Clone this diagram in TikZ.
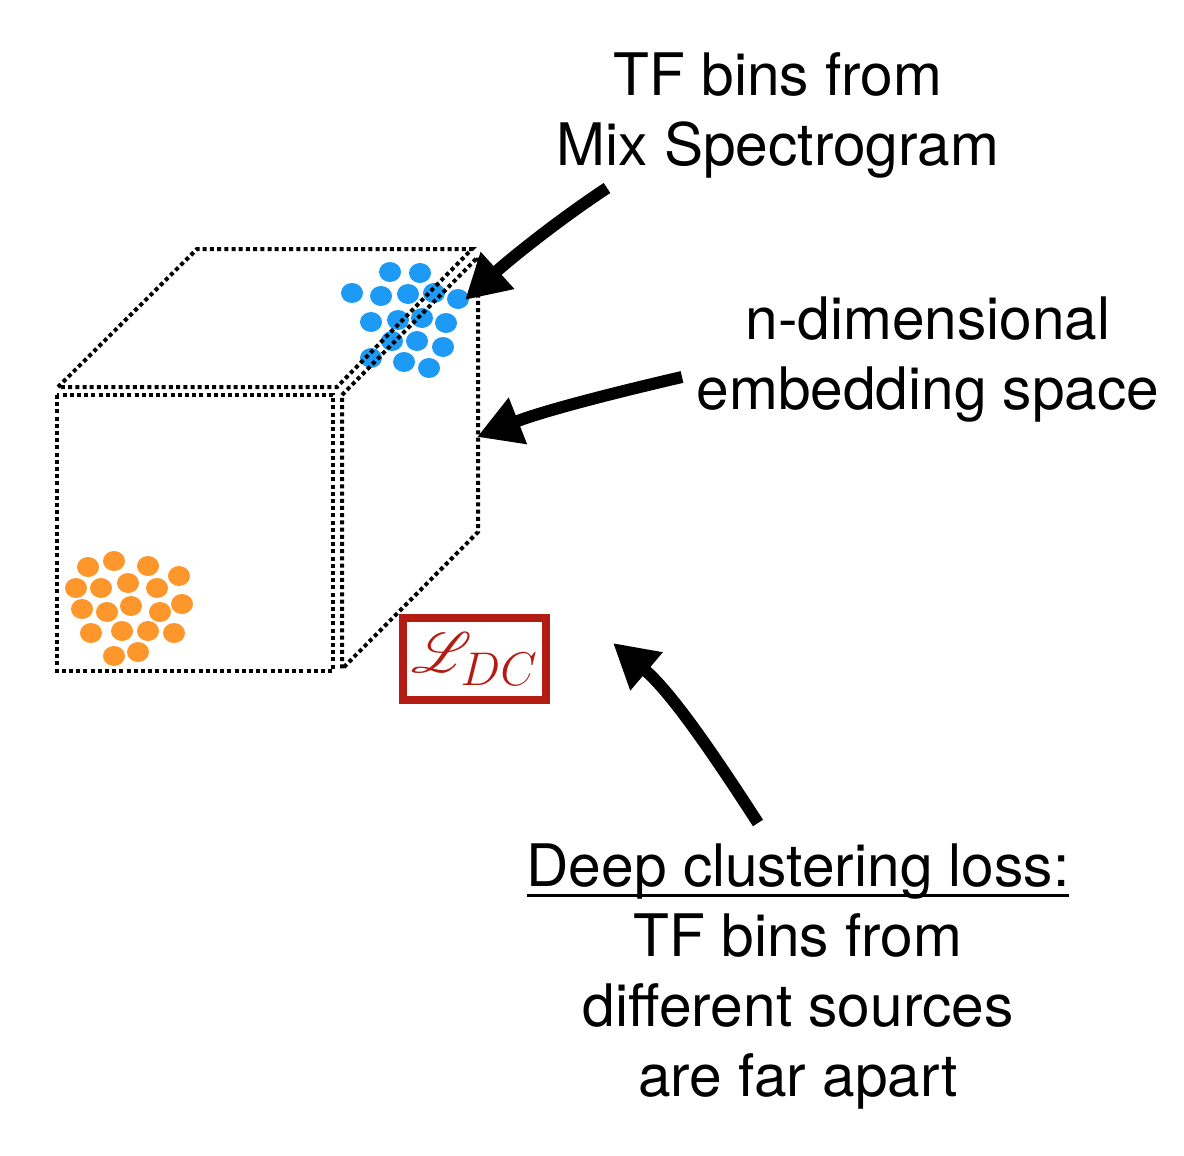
\documentclass[tikz,border=0pt]{standalone}
\usepackage{fontspec}
\setmainfont{TeX Gyre Heros}
\usepackage{mathrsfs}
\usepackage{graphicx}
\usetikzlibrary{arrows.meta}

\definecolor{dotblue}{RGB}{28,154,246}
\definecolor{dotorange}{RGB}{253,150,43}
\definecolor{lossred}{RGB}{178,28,18}

\newsavebox\headbox
\newcommand\headline[1]{\sbox\headbox{#1}\rlap{\rule[-5.25pt]{\wd\headbox}{1.5pt}}\usebox\headbox}

\begin{document}
\begin{tikzpicture}[x=0.5pt,y=-0.5pt,
  cubeline/.style={draw,line width=2pt,dash pattern=on 2pt off 1.6pt},
  bigarrow/.style={draw,line width=6pt,-{Triangle[length=22pt,width=23.5pt]}},
  bluedot/.style={fill=dotblue},
  orangedot/.style={fill=dotorange},
  labeltext/.style={align=center,inner sep=0pt,font={\fontsize{29.3pt}{35pt}\selectfont}}]
 \useasboundingbox (0,0) rectangle (1184,1156);

 % clusters of TF bins
 \foreach \x/\y in {390/272,420/273,352/293,381/296,408/294,434/293,458/299,371/322,398/320,422/318,446/323,392/341,417/341,443/347,371/358,404/362,429/368}
  \fill[bluedot] (\x,\y) ellipse (5.5pt and 5pt);
 \foreach \x/\y in {88/567,114/561,148/566,179/576,76/588,101/588,128/583,157/588,82/609,107/612,131/606,160/612,182/604,91/633,122/631,148/631,174/633,114/656,138/652}
  \fill[orangedot] (\x,\y) ellipse (5.5pt and 5pt);

 % embedding space
 \draw[cubeline] (58,387) -- (197,249) -- (472,249) -- (337,387) -- cycle;
 \draw[cubeline] (57,395) rectangle (333,671);
 \draw[cubeline] (342,395) -- (478,257) -- (478,532) -- (342,669) -- cycle;

 \node[labeltext] (mixlabel) at (778,115) {TF bins from\\Mix Spectrogram};
 \node[labeltext] (spacelabel) at (928,360) {n-dimensional\\embedding space};
 \node[labeltext] (losslabel) at (798,977) {\headline{Deep clustering loss:}\\TF bins from\\different sources\\are far apart};
 \node[draw=lossred,line width=4pt,minimum width=71.5pt,minimum height=41pt,inner sep=0pt,text=lossred,font={\fontsize{24.88pt}{30pt}\selectfont}] (loss) at (474.5,659) {\scalebox{1.14}{$\mathscr{L}_{DC}$}};

 \coordinate (mixtail) at (607,188);
 \coordinate (mixtip) at (465,300);
 \coordinate (spacetail) at (682,377);
 \coordinate (spacetip) at (477,437);
 \coordinate (losstail) at (758,823);
 \coordinate (losstip) at (613,643);

 \path[bigarrow] (mixtail) .. controls (557,221) and (509,260) .. (mixtip);
 \path[bigarrow] (spacetail) .. controls (613,393) and (543,411) .. (spacetip);
 \path[bigarrow] (losstail) .. controls (716,758) and (672,693) .. (losstip);
\end{tikzpicture}
\end{document}
